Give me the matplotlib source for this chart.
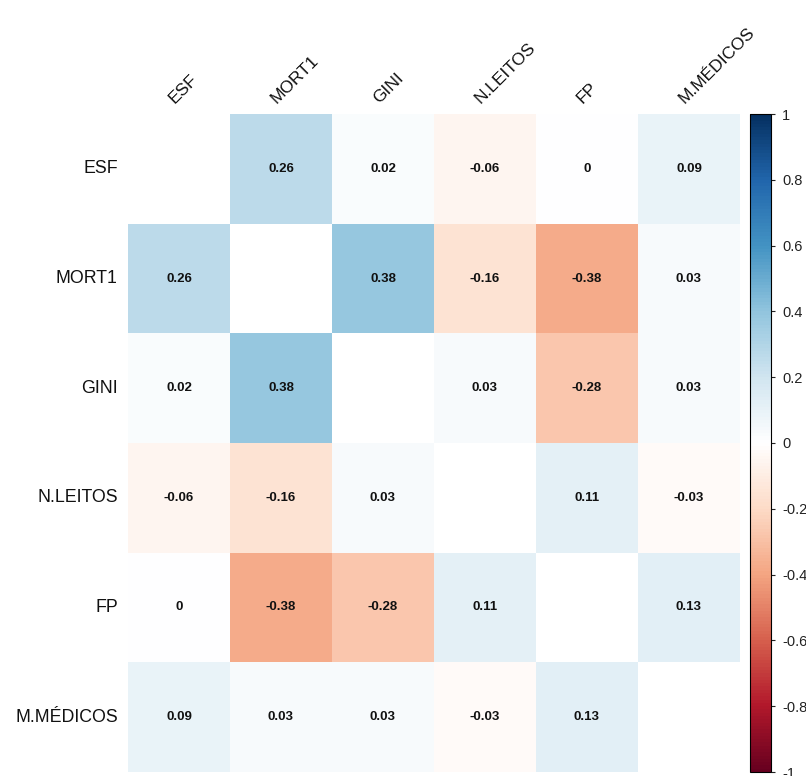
import numpy as np
import matplotlib
matplotlib.use("Agg")
import matplotlib.pyplot as plt
from matplotlib.colors import LinearSegmentedColormap, Normalize

plt.rcParams['font.family'] = ['Liberation Sans', 'DejaVu Sans']

labels = ["ESF", "MORT1", "GINI", "N.LEITOS", "FP", "M.MÉDICOS"]
corr = np.array([
    [np.nan, 0.26, 0.02, -0.06, 0.00, 0.09],
    [0.26, np.nan, 0.38, -0.16, -0.38, 0.03],
    [0.02, 0.38, np.nan, 0.03, -0.28, 0.03],
    [-0.06, -0.16, 0.03, np.nan, 0.11, -0.03],
    [0.00, -0.38, -0.28, 0.11, np.nan, 0.13],
    [0.09, 0.03, 0.03, -0.03, 0.13, np.nan],
])
cbar_ticks = [-1, -0.8, -0.6, -0.4, -0.2, 0, 0.2, 0.4, 0.6, 0.8, 1]

# corrplot style RdBu palette (red = negative, blue = positive)
rdbu = ["#67001F", "#B2182B", "#D6604D", "#F4A582", "#FDDBC7", "#FFFFFF",
        "#D1E5F0", "#92C5DE", "#4393C3", "#2166AC", "#053061"]
cmap = LinearSegmentedColormap.from_list("col2", rdbu, N=200)
cmap.set_bad("white")
norm = Normalize(-1, 1)

W, H = 806, 776
fig = plt.figure(figsize=(W / 100, H / 100), dpi=100)
ax = fig.add_axes([128 / W, 1 - 772 / H, 612 / W, 658 / H])
cax = fig.add_axes([750 / W, 1 - 772 / H, 21 / W, 658 / H])

n = len(labels)
ax.pcolormesh(np.arange(n + 1), np.arange(n + 1), np.ma.masked_invalid(corr),
              cmap=cmap, norm=norm)
ax.set_xlim(0, n)
ax.set_ylim(n, 0)
ax.axis('off')

for i in range(n):
    for j in range(n):
        v = corr[i, j]
        if np.isnan(v):
            continue
        txt = "0" if v == 0 else f"{v:g}"
        ax.text(j + 0.5, i + 0.5, txt, ha='center', va='center',
                fontsize=9.5, fontweight='bold', color='#111111')

# column labels on top, rotated
for j, lab in enumerate(labels):
    ax.text(j + 0.46, -0.09, lab, rotation=45, rotation_mode='anchor',
            ha='left', va='baseline', fontsize=12.5, color='#111111')
# row labels on the left
for i, lab in enumerate(labels):
    ax.text(-0.1, i + 0.5, lab, ha='right', va='center', fontsize=12.8,
            color='#111111')

sm = plt.cm.ScalarMappable(norm=norm, cmap=cmap)
cb = fig.colorbar(sm, cax=cax, ticks=cbar_ticks)
cb.ax.set_yticklabels([f"{t:g}" for t in cbar_ticks])
cb.ax.tick_params(length=3, width=0.8, labelsize=10.5, pad=5, colors='#222222')
cb.outline.set_linewidth(0.8)

fig.savefig("out.png", dpi=100)
